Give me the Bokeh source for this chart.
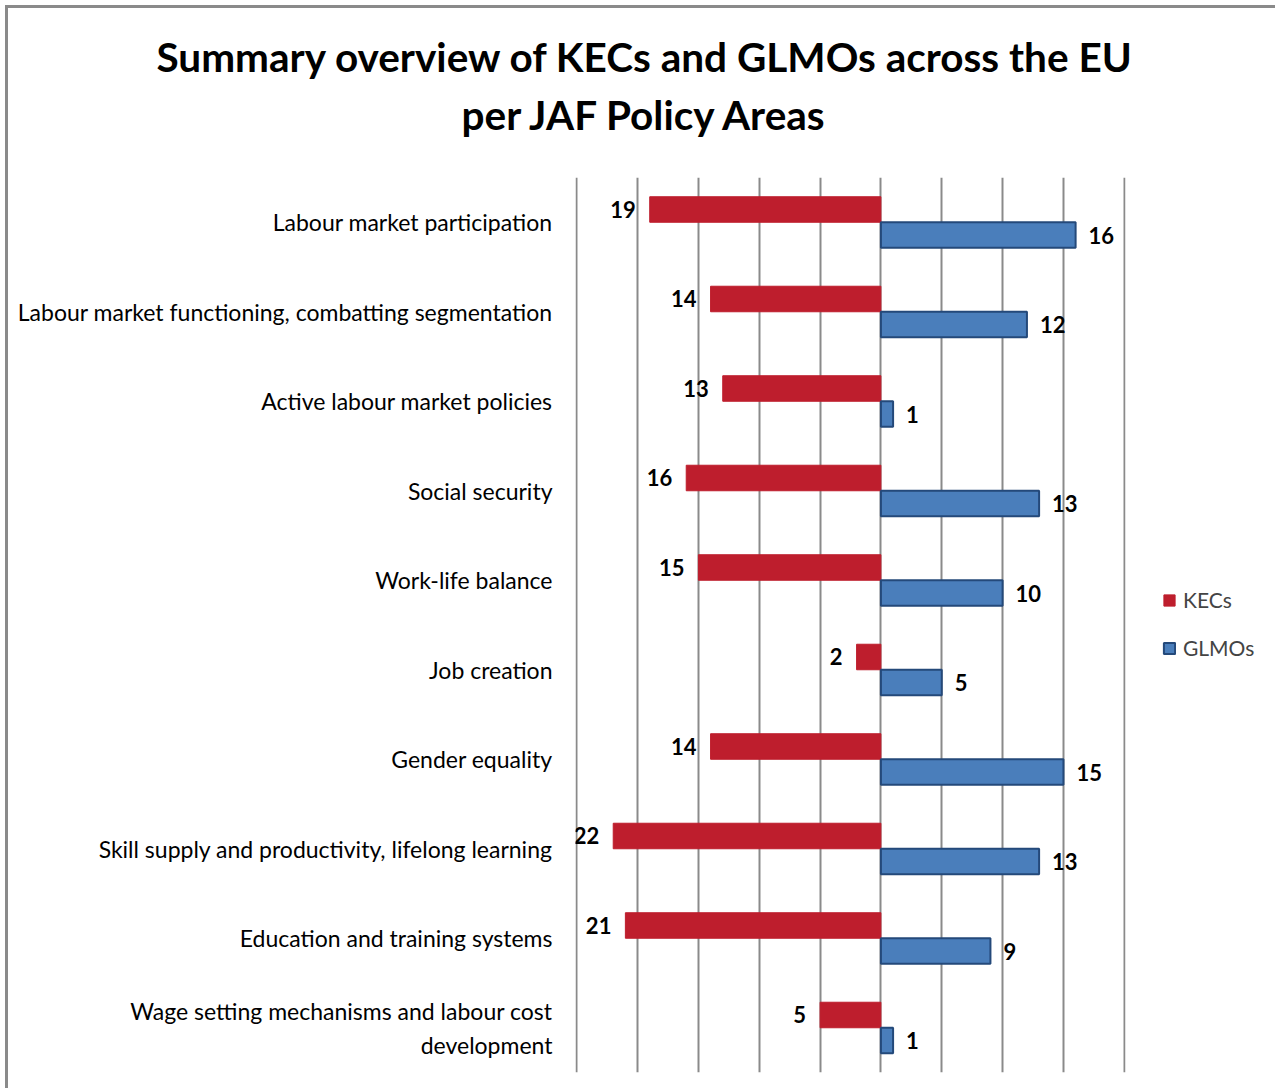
from bokeh.plotting import figure
from bokeh.models import FactorRange, Range1d, FixedTicker, Legend, LegendItem, ColumnDataSource, Title
from bokeh.transform import dodge
from bokeh.core.properties import value
from bokeh.embed import file_html
from bokeh.resources import INLINE

categories = [
    "Labour market participation",
    "Labour market functioning, combatting segmentation",
    "Active labour market policies",
    "Social security",
    "Work-life balance",
    "Job creation",
    "Gender equality",
    "Skill supply and productivity, lifelong learning",
    "Education and training systems",
    "Wage setting mechanisms and labour cost\ndevelopment",
]
kecs = [19, 14, 13, 16, 15, 2, 14, 22, 21, 5]
glmos = [16, 12, 1, 13, 10, 5, 15, 13, 9, 1]
grid_ticks = [-25, -20, -15, -10, -5, 0, 5, 10, 15, 20]
title_line1 = "Summary overview of KECs and GLMOs across the EU"
title_line2 = "per JAF Policy Areas"

RED = "#BE1E2D"
BLUE = "#4A7EBB"
BLUE_LINE = "#24497A"
FONT = "Lato"

src = ColumnDataSource(dict(
    cat=categories,
    kec_neg=[-v for v in kecs],
    kec_lbl=[str(v) for v in kecs],
    glmo=glmos,
    glmo_lbl=[str(v) for v in glmos],
))

p = figure(
    y_range=FactorRange(*reversed(categories)),
    x_range=Range1d(-25.1, 20.1),
    width=1265, height=1080,
    frame_width=550, frame_height=895,
    min_border_left=567, min_border_right=148,
    min_border_top=169, min_border_bottom=16,
    output_backend="svg", toolbar_location=None,
)
p.styles = {"border-left": "3px solid #8a8a8a", "border-top": "3px solid #8a8a8a",
            "margin-left": "5px", "margin-top": "5px"}
p.outline_line_color = None

# outer title line (top)
p.title.text = title_line1
p.title.align = "left"
p.title.offset = -419
p.title.standoff = 0
p.title.text_font = FONT
p.title.text_font_style = "bold"
p.title.text_font_size = "40.5px"
p.title.text_color = "black"

# blank spacer between the second title line and the plot area
spacer = Title(text=" ", standoff=18, text_font=FONT, text_font_size="10px")
p.add_layout(spacer, "above")

# inner title line
t2 = Title(text=title_line2, align="left", offset=-114, standoff=14,
           text_font=FONT, text_font_style="bold", text_font_size="40.5px", text_color="black")
p.add_layout(t2, "above")

bh = 0.285
kec_r = p.hbar(y=dodge("cat", bh / 2, range=p.y_range), left=0, right="kec_neg", height=bh,
               source=src, fill_color=RED, line_color=RED, line_width=1)
glmo_r = p.hbar(y=dodge("cat", -bh / 2, range=p.y_range), left=0, right="glmo", height=bh,
                source=src, fill_color=BLUE, line_color=BLUE_LINE, line_width=2)

p.text(x="kec_neg", y=dodge("cat", bh / 2, range=p.y_range), text="kec_lbl", source=src,
       text_align="right", text_baseline="middle", x_offset=-14,
       text_font=value(FONT), text_font_style="bold", text_font_size="22px", text_color="black")
p.text(x="glmo", y=dodge("cat", -bh / 2, range=p.y_range), text="glmo_lbl", source=src,
       text_align="left", text_baseline="middle", x_offset=13,
       text_font=value(FONT), text_font_style="bold", text_font_size="22px", text_color="black")

p.xaxis.visible = False
p.xgrid.ticker = FixedTicker(ticks=grid_ticks)
p.xgrid.grid_line_color = "#8a8a8a"
p.xgrid.grid_line_width = 2
p.ygrid.grid_line_color = None

ax = p.yaxis[0]
ax.axis_line_color = None
ax.major_tick_line_color = None
ax.minor_tick_line_color = None
ax.major_tick_out = 0
ax.major_label_standoff = 23
ax.major_label_text_font = FONT
ax.major_label_text_font_size = "23px"
ax.major_label_text_color = "black"

legend = Legend(items=[LegendItem(label="KECs", renderers=[kec_r]),
                       LegendItem(label="GLMOs", renderers=[glmo_r])],
                location=(37, 412), padding=0, margin=0, spacing=23,
                glyph_width=14, glyph_height=14, label_standoff=7,
                label_text_font=FONT, label_text_font_size="21px",
                border_line_color=None, background_fill_alpha=0)
p.add_layout(legend, "right")

open("out.html", "w").write(file_html(p, INLINE))
